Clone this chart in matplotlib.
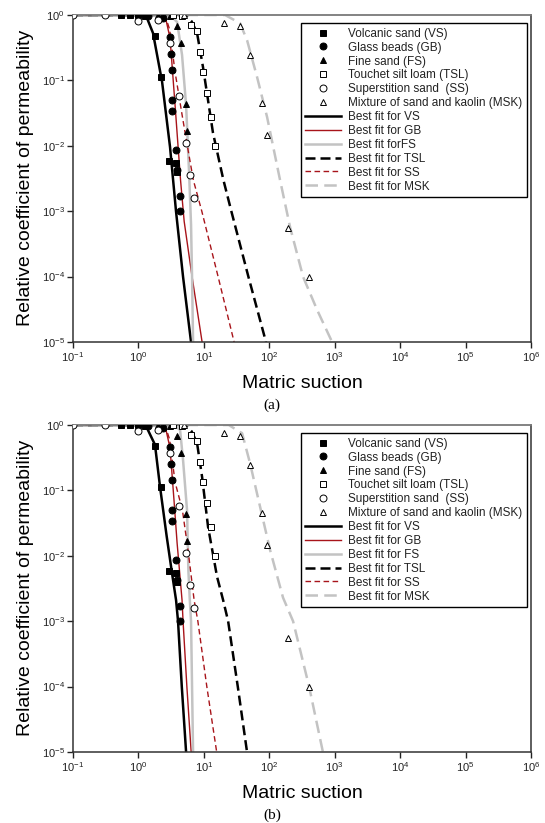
import numpy as np
import matplotlib
matplotlib.use("Agg")
from matplotlib import pyplot as plt
from matplotlib.ticker import FixedLocator, LogFormatterSciNotation, NullLocator

plt.rcParams['font.family'] = ['Liberation Sans', 'DejaVu Sans']
plt.rcParams['mathtext.fontset'] = 'custom'
plt.rcParams['mathtext.rm'] = 'Liberation Sans'
plt.rcParams['mathtext.it'] = 'Liberation Sans:italic'
plt.rcParams['axes.unicode_minus'] = False

# measured points (same in both panels)
vs_x = [0.55, 0.75, 1.0, 1.25, 1.79, 2.22, 2.94, 3.76, 3.9]
vs_y = [1.0, 1.0, 1.0, 0.98, 0.48, 0.113, 0.0059, 0.0055, 0.004]
gb_x = [1.4, 2.4, 3.04, 3.15, 3.26, 3.26, 3.26, 3.76, 3.9, 4.33, 4.33]
gb_y = [0.95, 0.9, 0.46, 0.25, 0.144, 0.050, 0.034, 0.0086, 0.0043, 0.0017, 0.001]
fs_x = [2.0, 3.0, 3.9, 4.4, 5.35, 5.6]
fs_y = [1.0, 0.98, 0.68, 0.37, 0.044, 0.017]
tsl_x = [3.38, 4.64, 6.37, 7.87, 8.75, 9.7, 11.2, 12.9, 14.8]
tsl_y = [1.0, 0.97, 0.70, 0.57, 0.27, 0.134, 0.064, 0.0276, 0.0099]
ss_x = [0.1, 0.31, 0.99, 2.0, 3.04, 4.18, 5.35, 6.15, 7.08]
ss_y = [1.0, 1.0, 0.81, 0.84, 0.37, 0.058, 0.011, 0.0036, 0.0016]
msk_x = [4.98, 20.4, 35.7, 50.8, 77.6, 92.5, 194, 406]
msk_y = [1.0, 0.75, 0.68, 0.245, 0.045, 0.0146, 5.5e-4, 9.9e-5]

# best-fit curves, panel (a)
vs_fit_a_x = [0.1, 0.9, 1.15, 1.35, 1.67, 2.30, 3.04, 3.76, 4.81, 6.37]
vs_fit_a_y = [1, 1, 0.97, 0.90, 0.53, 0.095, 0.0096, 9.8e-4, 9.9e-5, 1e-5]
gb_fit_a_x = [0.1, 2.14, 2.64, 3.04, 3.63, 4.0, 4.4, 5.0, 6.6, 9.4]
gb_fit_a_y = [1, 1, 0.84, 0.445, 0.042, 0.011, 0.003, 7e-4, 1e-4, 1e-5]
fs_fit_a_x = [0.1, 3.04, 3.9, 4.64, 5.35, 5.94, 6.37, 6.6, 6.84]
fs_fit_a_y = [1, 1, 0.78, 0.245, 0.042, 0.004, 6.2e-4, 9.9e-5, 1e-5]
tsl_fit_a_x = [0.1, 4.33, 5.5, 6.5, 7.87, 9.7, 13.8, 19.9, 26.3, 47.9, 89]
tsl_fit_a_y = [1, 1, 0.95, 0.8, 0.53, 0.16, 0.0157, 0.003, 1e-3, 1e-4, 1e-5]
ss_fit_a_x = [0.1, 2.14, 2.6, 3.0, 3.63, 4.64, 5.5, 6.9, 9.3, 16.5, 29]
ss_fit_a_y = [1, 1, 0.93, 0.6, 0.134, 0.03, 0.011, 0.003, 1e-3, 1e-4, 1e-5]
msk_fit_a_x = [0.1, 21.1, 35.7, 45.8, 65, 92.5, 146, 208, 329, 538, 912]
msk_fit_a_y = [1, 1, 0.75, 0.41, 0.113, 0.0276, 0.003, 5.7e-4, 9.9e-5, 3.1e-5, 1e-5]

# best-fit curves, panel (b)
vs_fit_b_x = [0.1, 0.9, 1.15, 1.35, 1.79, 2.14, 2.7, 3.3, 3.76, 4.03, 4.6, 5.35]
vs_fit_b_y = [1, 1, 0.97, 0.9, 0.5, 0.113, 0.02, 0.005, 0.0021, 1e-3, 1e-4, 1e-5]
gb_fit_b_x = [0.1, 2.14, 2.64, 3.04, 3.5, 3.9, 4.64, 4.81, 5.5, 6.4]
gb_fit_b_y = [1, 1, 0.84, 0.445, 0.07, 0.0157, 0.0021, 1e-3, 1e-4, 1e-5]
fs_fit_b_x = [0.1, 3.5, 4.33, 4.81, 5.53, 5.8, 6.1, 6.37, 6.6, 6.84]
fs_fit_b_y = [1, 1, 0.84, 0.29, 0.05, 0.006, 0.0021, 1e-3, 1e-4, 1e-5]
tsl_fit_b_x = [0.1, 4.33, 5.5, 6.5, 7.87, 9.4, 11.6, 15.9, 19.7, 23.5, 33, 45.7]
tsl_fit_b_y = [1, 1, 0.95, 0.8, 0.53, 0.16, 0.0276, 0.0048, 0.0021, 1e-3, 1e-4, 1e-5]
ss_fit_b_x = [0.1, 2.14, 2.6, 3.0, 3.63, 4.7, 5.73, 7.1, 8.1, 11.1, 15.7]
ss_fit_b_y = [1, 1, 0.93, 0.6, 0.134, 0.05, 0.0122, 0.0021, 1e-3, 1e-4, 1e-5]
msk_fit_b_x = [0.1, 24, 38.4, 50.8, 72.4, 103, 162, 231, 406, 660]
msk_fit_b_y = [1, 1, 0.75, 0.26, 0.056, 0.0122, 0.0023, 1e-3, 1e-4, 1e-5]

x_ticks = [1e-1, 1e0, 1e1, 1e2, 1e3, 1e4, 1e5, 1e6]
y_ticks = [1e-5, 1e-4, 1e-3, 1e-2, 1e-1, 1e0]

point_labels = ['Volcanic sand (VS)', 'Glass beads (GB)', 'Fine sand (FS)',
                'Touchet silt loam (TSL)', 'Superstition sand  (SS)',
                'Mixture of sand and kaolin (MSK)']
fit_labels_a = ['Best fit for VS', 'Best fit for GB', 'Best fit forFS',
                'Best fit for TSL', 'Best fit for SS', 'Best fit for MSK']
fit_labels_b = ['Best fit for VS', 'Best fit for GB', 'Best fit for FS',
                'Best fit for TSL', 'Best fit for SS', 'Best fit for MSK']

RED = '#a8141a'
GRAY = '#c3c3c3'
point_styles = [
    dict(marker='s', mfc='black', mec='black'),
    dict(marker='o', mfc='black', mec='black'),
    dict(marker='^', mfc='black', mec='black'),
    dict(marker='s', mfc='white', mec='black'),
    dict(marker='o', mfc='white', mec='black'),
    dict(marker='^', mfc='white', mec='black'),
]
fit_styles = [
    dict(color='black', lw=1.8, ls='-'),
    dict(color=RED, lw=1.0, ls='-'),
    dict(color=GRAY, lw=1.8, ls='-'),
    dict(color='black', lw=1.8, ls=(0, (4, 2))),
    dict(color=RED, lw=1.0, ls=(0, (4, 2.5))),
    dict(color=GRAY, lw=1.8, ls=(0, (5, 2.5))),
]

points = [(vs_x, vs_y), (gb_x, gb_y), (fs_x, fs_y),
          (tsl_x, tsl_y), (ss_x, ss_y), (msk_x, msk_y)]
fits_a = [(vs_fit_a_x, vs_fit_a_y), (gb_fit_a_x, gb_fit_a_y), (fs_fit_a_x, fs_fit_a_y),
          (tsl_fit_a_x, tsl_fit_a_y), (ss_fit_a_x, ss_fit_a_y), (msk_fit_a_x, msk_fit_a_y)]
fits_b = [(vs_fit_b_x, vs_fit_b_y), (gb_fit_b_x, gb_fit_b_y), (fs_fit_b_x, fs_fit_b_y),
          (tsl_fit_b_x, tsl_fit_b_y), (ss_fit_b_x, ss_fit_b_y), (msk_fit_b_x, msk_fit_b_y)]

W, H = 545, 823
fig = plt.figure(figsize=(W / 100, H / 100), dpi=100)


def panel(top_px, fits, fit_labels, tag):
    ax = fig.add_axes([73 / W, 1 - (top_px + 327) / H, 458 / W, 327 / H])
    handles = []
    for (x, y), st, lab in zip(fits, fit_styles, fit_labels):
        h, = ax.plot(x, y, label=lab, zorder=2, **st)
        handles.append(h)
    mhandles = []
    for (x, y), st, lab in zip(points, point_styles, point_labels):
        h, = ax.plot(x, y, ls='none', ms=5, mew=0.7, label=lab, zorder=3, **st)
        mhandles.append(h)

    ax.set_xscale('log')
    ax.set_yscale('log')
    ax.set_xlim(0.1, 1e6)
    ax.set_ylim(1e-5, 1)
    # fixed decade ticks only (no off-range labels)
    ax.xaxis.set_major_locator(FixedLocator(x_ticks))
    ax.yaxis.set_major_locator(FixedLocator(y_ticks))
    ax.xaxis.set_minor_locator(NullLocator())
    ax.yaxis.set_minor_locator(NullLocator())
    ax.xaxis.set_major_formatter(LogFormatterSciNotation())
    ax.yaxis.set_major_formatter(LogFormatterSciNotation())
    ax.tick_params(direction='out', length=4, width=1, labelsize=8, pad=2,
                   colors='#222222')
    for s in ['left', 'bottom', 'right']:
        ax.spines[s].set_color('#333333')
        ax.spines[s].set_linewidth(1.1)
    ax.spines['top'].set_color('#7a7a7a')
    ax.spines['top'].set_linewidth(1.3)

    leg = ax.legend(mhandles + handles, point_labels + fit_labels,
                    loc='upper right', bbox_to_anchor=(0.991, 0.9755),
                    borderaxespad=0, fontsize=8.5, numpoints=1,
                    handlelength=3.0, handletextpad=0.6, labelspacing=0.16,
                    borderpad=0.4, fancybox=False, framealpha=1)
    leg.get_frame().set_edgecolor('black')
    leg.get_frame().set_linewidth(1.0)
    for t in leg.get_texts():
        t.set_color('#222222')

    fig.text(26 / W, 1 - (top_px + 163) / H, 'Relative coefficient of permeability',
             rotation=90, ha='center', va='center', fontsize=14)
    fig.text(302 / W, 1 - (top_px + 368) / H, 'Matric suction',
             ha='center', va='center', fontsize=14)
    fig.text(272 / W, 1 - (top_px + 390) / H, tag, ha='center', va='center',
             fontsize=11, family='Liberation Serif')
    return ax


panel(15, fits_a, fit_labels_a, '(a)')
panel(425, fits_b, fit_labels_b, '(b)')

fig.savefig('out.png', dpi=100)
